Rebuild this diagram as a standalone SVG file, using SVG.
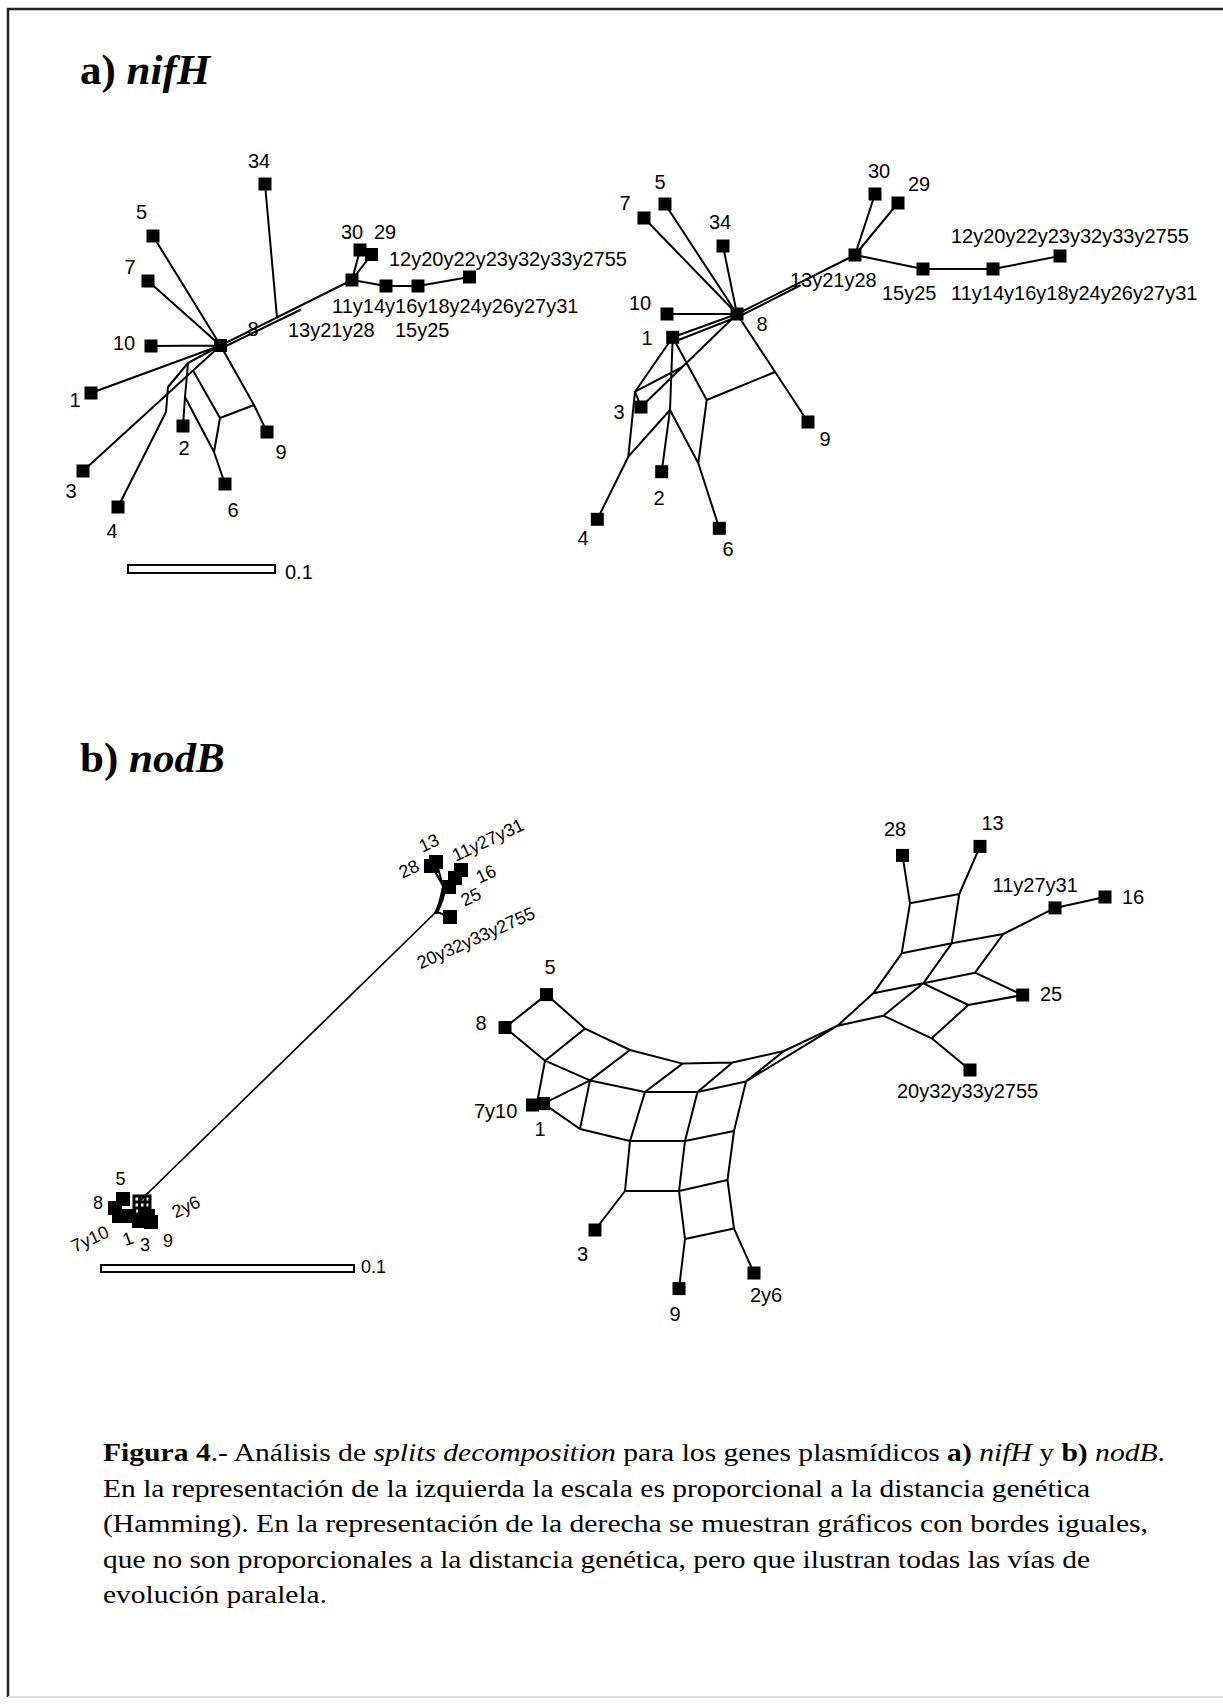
<svg xmlns="http://www.w3.org/2000/svg" width="1223" height="1707" viewBox="0 0 1223 1707">
<defs>
<style>
.e{fill:none;stroke:#000;stroke-width:2;stroke-linecap:round;stroke-linejoin:round}
.thin{fill:none;stroke:#000;stroke-width:1.7;stroke-linecap:round}
.lb{font-family:"Liberation Sans",Arial,sans-serif;font-size:20px;fill:#000}
.ls{font-family:"Liberation Sans",Arial,sans-serif;font-size:18px;fill:#000}
.m{text-anchor:middle}
.ttl{font-family:"Liberation Serif","Times New Roman",serif;font-size:43px;font-weight:bold;fill:#000}
.cap{font-family:"Liberation Serif","Times New Roman",serif;font-size:26px;fill:#000}
.bar{fill:#fff;stroke:#000;stroke-width:2}
</style>
<rect id="s" x="-6.5" y="-6.5" width="13" height="13"/>
<rect id="ss" x="-7" y="-7" width="14" height="14"/>
</defs>
<rect width="1223" height="1707" fill="#fff"/>
<!-- page frame -->
<path d="M8 1697 V9 H1223" fill="none" stroke="#222" stroke-width="2.5"/>
<path d="M8 1697 H1223" fill="none" stroke="#ddd" stroke-width="2"/>

<!-- section titles -->
<text class="ttl" x="80" y="84">a) <tspan font-style="italic">nifH</tspan></text>
<text class="ttl" x="80" y="772">b) <tspan font-style="italic">nodB</tspan></text>

<!-- ===== nifH, proportional ===== -->
<g id="nifH-prop-edges">
<path class="e" d="M220.5 345.5 L151 346 M220.5 345.5 L148 281 M220.5 345.5 L153 236 M220.5 345.5 L91 393 M220.5 345.5 L83 471 M220.5 345.5 L254 405 L267 432 M220.5 345.5 L352 280 M221 348.5 L300 310 M277 317.6 L265 184 M352 280 L360 250 M352 280 L371.5 254.5 M352 280 L386 286 L418 286 L469.5 277 M220.5 345.5 L188 363 L168 387 L166 412 L118 507 M188 363 L185 397 L183 426 M185 397 L214 452 L225 484 M193 370.6 L220 418 L214 452 M220 418 L254 405"/>
</g>
<g id="nifH-prop-nodes">
<g id="pA-8"><use href="#s" x="220.5" y="345.5"/><text class="lb m" x="253" y="336">8</text></g>
<g id="pA-34"><use href="#s" x="265" y="184"/><text class="lb m" x="259" y="168">34</text></g>
<g id="pA-5"><use href="#s" x="153" y="236"/><text class="lb m" x="141.5" y="219">5</text></g>
<g id="pA-7"><use href="#s" x="148" y="281"/><text class="lb m" x="130" y="274">7</text></g>
<g id="pA-10"><use href="#s" x="151" y="346"/><text class="lb m" x="124" y="350">10</text></g>
<g id="pA-1"><use href="#s" x="91" y="393"/><text class="lb m" x="75" y="407">1</text></g>
<g id="pA-3"><use href="#s" x="83" y="471"/><text class="lb m" x="71" y="498">3</text></g>
<g id="pA-4"><use href="#s" x="118" y="507"/><text class="lb m" x="112" y="538">4</text></g>
<g id="pA-2"><use href="#s" x="183" y="426"/><text class="lb m" x="184" y="455">2</text></g>
<g id="pA-6"><use href="#s" x="225" y="484"/><text class="lb m" x="233" y="517">6</text></g>
<g id="pA-9"><use href="#s" x="267" y="432"/><text class="lb m" x="281" y="459">9</text></g>
<g id="pA-30"><use href="#s" x="360" y="250"/><text class="lb m" x="352" y="239">30</text></g>
<g id="pA-29"><use href="#s" x="371.5" y="254.5"/><text class="lb m" x="385" y="239">29</text></g>
<g id="pA-13y21y28"><use href="#s" x="352" y="280"/><text class="lb" x="288" y="337">13y21y28</text></g>
<g id="pA-15y25"><use href="#s" x="386" y="286"/><text class="lb" x="395" y="337">15y25</text></g>
<g id="pA-11y31"><use href="#s" x="418" y="286"/><text class="lb" x="332" y="313">11y14y16y18y24y26y27y31</text></g>
<g id="pA-12y2755"><use href="#s" x="469.5" y="277"/><text class="lb" x="389" y="266">12y20y22y23y32y33y2755</text></g>
</g>
<g id="nifH-prop-scale">
<rect class="bar" x="128" y="565" width="147" height="8"/>
<text class="lb" x="285" y="579" font-size="23">0.1</text>
</g>

<!-- ===== nifH, equal edges ===== -->
<g id="nifH-eq-edges">
<path class="e" d="M737 314 L667 314 M737 314 L644 218 M737 314 L665 204 M737 314 L723 246 M737 314 L855 255 M738 317 L800 285.5 M855 255 L875 194 M855 255 L898 203 M855 255 L923 269 L993 269 L1060 256 M737 314 L672.7 337.3 M737 317 L676 341 M737 314 L641 407 M737 314 L808 422 M672.7 337.3 L635 391.7 L641 407 M635 391.7 L682.3 367 M672.7 337.3 L670 410 L661.7 471.7 M670 410 L628.3 456.7 L597.3 519.3 M670 410 L698.3 463.3 L719.3 528.3 M635 391.7 L628.3 456.7 M672.7 337.3 L706.7 400 L698.3 463.3 M706.7 400 L775 372"/>
</g>
<g id="nifH-eq-nodes">
<g id="eA-8"><use href="#s" x="737" y="314"/><text class="lb m" x="762" y="331">8</text></g>
<g id="eA-13y21y28"><use href="#s" x="855" y="255"/><text class="lb" x="790" y="287">13y21y28</text></g>
<g id="eA-30"><use href="#s" x="875" y="194"/><text class="lb m" x="879" y="178">30</text></g>
<g id="eA-29"><use href="#s" x="898" y="203"/><text class="lb m" x="919" y="191">29</text></g>
<g id="eA-15y25"><use href="#s" x="923" y="269"/><text class="lb" x="882" y="300">15y25</text></g>
<g id="eA-11y31"><use href="#s" x="993" y="269"/><text class="lb" x="951" y="300">11y14y16y18y24y26y27y31</text></g>
<g id="eA-12y2755"><use href="#s" x="1060" y="256"/><text class="lb" x="951" y="243">12y20y22y23y32y33y2755</text></g>
<g id="eA-5"><use href="#s" x="665" y="204"/><text class="lb m" x="660" y="189">5</text></g>
<g id="eA-7"><use href="#s" x="644" y="218"/><text class="lb m" x="625" y="210">7</text></g>
<g id="eA-34"><use href="#s" x="723" y="246"/><text class="lb m" x="720" y="229">34</text></g>
<g id="eA-10"><use href="#s" x="667" y="314"/><text class="lb m" x="640" y="310">10</text></g>
<g id="eA-1"><use href="#s" x="672.7" y="337.3"/><text class="lb m" x="647" y="345">1</text></g>
<g id="eA-3"><use href="#s" x="641" y="407"/><text class="lb m" x="619" y="419">3</text></g>
<g id="eA-9"><use href="#s" x="808" y="422"/><text class="lb m" x="825" y="446">9</text></g>
<g id="eA-2"><use href="#s" x="661.7" y="471.7"/><text class="lb m" x="659" y="505">2</text></g>
<g id="eA-4"><use href="#s" x="597.3" y="519.3"/><text class="lb m" x="583" y="545">4</text></g>
<g id="eA-6"><use href="#s" x="719.3" y="528.3"/><text class="lb m" x="728" y="556">6</text></g>
</g>

<!-- ===== nodB, proportional ===== -->
<g id="nodB-prop-edges">
<path class="thin" d="M435 913 L148 1193"/>
<path class="e" d="M435 913 C439 906 441 898 443 886 M437 913 C441 905 444 898 446 886 M436 913 C440 906 443 898 445 886 M437 912 L450 917 M443 886 L432 866 M443 886 L436 861 M443 886 L462 870 M443 886 L458 877 M443 886 L450 887 M148 1193 Q144 1196 140 1201"/>
<path d="M134 1196 H150 V1214 H134 Z M134 1202 H150 M134 1208 H150 M139.5 1196 V1214 M145 1196 V1214" fill="none" stroke="#000" stroke-width="3"/>
</g>
<g id="nodB-prop-nodes">
<g id="pB-28"><use href="#ss" x="431" y="866"/><text class="ls m" transform="translate(409 869) rotate(-25)" y="6">28</text></g>
<g id="pB-13"><use href="#ss" x="436" y="862"/><text class="ls m" transform="translate(429 843) rotate(-25)" y="6">13</text></g>
<g id="pB-11y27y31"><use href="#ss" x="461" y="870"/><text class="ls m" transform="translate(488 840) rotate(-25)" y="6">11y27y31</text></g>
<g id="pB-16"><use href="#ss" x="455" y="878"/><text class="ls m" transform="translate(486 874) rotate(-25)" y="6">16</text></g>
<g id="pB-25"><use href="#ss" x="449" y="887"/><text class="ls m" transform="translate(471 897) rotate(-25)" y="6">25</text></g>
<g id="pB-20y2755"><use href="#ss" x="450" y="917"/><text class="ls m" transform="translate(476 938) rotate(-24)" y="6">20y32y33y2755</text></g>
<g id="pB-5"><use href="#ss" x="123" y="1199"/><text class="ls m" x="120.5" y="1185">5</text></g>
<g id="pB-8"><use href="#ss" x="115" y="1208"/><text class="ls m" x="98" y="1209">8</text></g>
<g id="pB-7y10"><use href="#ss" x="119" y="1216"/><text class="ls m" transform="translate(90 1239) rotate(-25)" y="6">7y10</text></g>
<g id="pB-1"><use href="#ss" x="129" y="1216"/><text class="ls m" transform="translate(128 1239) rotate(-20)" y="6">1</text></g>
<g id="pB-3"><use href="#ss" x="139" y="1221"/><text class="ls m" x="145" y="1251">3</text></g>
<g id="pB-9"><use href="#ss" x="151" y="1222"/><text class="ls m" x="168" y="1247">9</text></g>
<g id="pB-2y6"><use href="#ss" x="148" y="1216"/><text class="ls m" transform="translate(186 1207) rotate(-25)" y="6">2y6</text></g>
</g>
<g id="nodB-prop-scale">
<rect class="bar" x="101" y="1265" width="253" height="7"/>
<text class="ls" x="361" y="1273">0.1</text>
</g>

<!-- ===== nodB, equal edges ===== -->
<g id="nodB-eq-edges">
<path class="e" d="M546.5 994.6 L585 1028.6 L630 1050 L682.5 1063.6 L732.5 1062.5 L784 1051 L837.5 1025.7 M505 1027.5 L545 1060.7 L590 1080.4 L645 1092 L697.5 1092 L746 1081.4 L837.5 1025.7 M546.5 994.6 L505 1027.5 M585 1028.6 L545 1060.7 M630 1050 L590 1080.4 M682.5 1063.6 L645 1092 M732.5 1062.5 L697.5 1092 M784 1051 L746 1081.4 M545 1060.7 L537 1103 M543.5 1103.6 L590 1080.4 M543.5 1103.6 L580 1129 L630 1141 L685 1141 L734 1131 L746 1081.4 M580 1129 L590 1080.4 M630 1141 L645 1092 M685 1141 L697.5 1092 M630 1141 L625 1191 L679 1191 L727.5 1180 L734 1131 M685 1141 L679 1191 M679 1191 L685 1239 L734 1228.6 L727.5 1180 M685 1239 L679 1288.6 M734 1228.6 L754 1273 M625 1191 L595 1230"/>
<path class="e" d="M837.5 1025.7 L873.3 993.3 L901.7 953.3 L910 903.3 L902.5 855.4 M901.7 953.3 L951.7 943.3 M910 903.3 L959.3 894 L980 846.4 M959.3 894 L951.7 943.3 L1003.3 934 L1055 907.9 L1105 897 M873.3 993.3 L923.3 983.3 L951.7 943.3 M923.3 983.3 L975 972.7 L1003.3 934 M975 972.7 L1022.7 995 M923.3 983.3 L968.3 1005 L1022.7 995 M837.5 1025.7 L883.3 1015.7 L923.3 983.3 M883.3 1015.7 L931.7 1038.3 L968.3 1005 M931.7 1038.3 L970 1070"/>
</g>
<g id="nodB-eq-nodes">
<g id="eB-28"><use href="#s" x="902.5" y="855.4"/><text class="lb m" x="895" y="836">28</text></g>
<g id="eB-13"><use href="#s" x="980" y="846.4"/><text class="lb m" x="992.5" y="830">13</text></g>
<g id="eB-11y27y31"><use href="#s" x="1055" y="907.9"/><text class="lb" x="992.5" y="892">11y27y31</text></g>
<g id="eB-16"><use href="#s" x="1105" y="897"/><text class="lb" x="1122" y="904">16</text></g>
<g id="eB-25"><use href="#s" x="1022.7" y="995"/><text class="lb" x="1040" y="1001">25</text></g>
<g id="eB-20y2755"><use href="#s" x="970" y="1070"/><text class="lb" x="897" y="1098">20y32y33y2755</text></g>
<g id="eB-5"><use href="#s" x="546.5" y="994.6"/><text class="lb m" x="550" y="974">5</text></g>
<g id="eB-8"><use href="#s" x="505" y="1027.5"/><text class="lb m" x="481" y="1030">8</text></g>
<g id="eB-7y10"><use href="#s" x="532.5" y="1105"/><text class="lb" x="474" y="1118">7y10</text></g>
<g id="eB-1"><use href="#s" x="543.5" y="1103.6"/><text class="lb m" x="540" y="1136">1</text></g>
<g id="eB-3"><use href="#s" x="595" y="1230"/><text class="lb m" x="582.5" y="1261">3</text></g>
<g id="eB-9"><use href="#s" x="679" y="1288.6"/><text class="lb m" x="675" y="1321">9</text></g>
<g id="eB-2y6"><use href="#s" x="754" y="1273"/><text class="lb" x="750" y="1302">2y6</text></g>
</g>

<!-- caption -->
<g id="caption" class="cap">
<text x="103" y="1461" textLength="1062" lengthAdjust="spacingAndGlyphs"><tspan font-weight="bold">Figura 4</tspan>.- Análisis de <tspan font-style="italic">splits decomposition</tspan> para los genes plasmídicos <tspan font-weight="bold">a)</tspan> <tspan font-style="italic">nifH</tspan> y <tspan font-weight="bold">b)</tspan> <tspan font-style="italic">nodB</tspan>.</text>
<text x="103" y="1496.5" textLength="987" lengthAdjust="spacingAndGlyphs">En la representación de la izquierda la escala es proporcional a la distancia genética</text>
<text x="103" y="1532" textLength="1045" lengthAdjust="spacingAndGlyphs">(Hamming). En la representación de la derecha se muestran gráficos con bordes iguales,</text>
<text x="103" y="1567.5" textLength="987" lengthAdjust="spacingAndGlyphs">que no son proporcionales a la distancia genética, pero que ilustran todas las vías de</text>
<text x="103" y="1603" textLength="224" lengthAdjust="spacingAndGlyphs">evolución paralela.</text>
</g>
</svg>
